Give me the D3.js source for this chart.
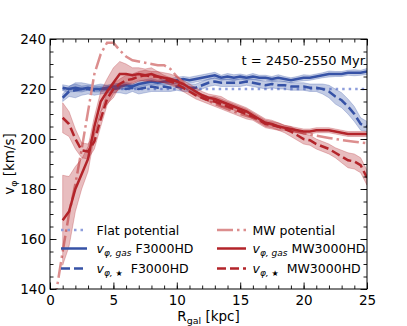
<!DOCTYPE html>
<html>
<head>
<meta charset="utf-8">
<script src="https://cdn.jsdelivr.net/npm/d3@7"></script>
<style>
body { margin: 0; background: #fff; }
text { font-family: "DejaVu Sans", sans-serif; fill: #000; }
</style>
</head>
<body>
<div id="chart"></div>
<script>
// rotation curves (step 0.5 kpc)
var R = [1,1.5,2,2.5,3,3.5,4,4.5,5,5.5,6,6.5,7,7.5,8,8.5,9,9.5,10,10.5,11,11.5,12,12.5,13,13.5,14,14.5,15,15.5,16,16.5,17,17.5,18,18.5,19,19.5,20,20.5,21,21.5,22,22.5,23,23.5,24,24.5,25];

var gasF = [220.5,220,220.5,220,220.5,220,220,220.5,221,221,221.5,221,222,222.5,223,222.5,223,223,223.5,224,223.5,224,224.5,225,225.5,224.5,225,224.5,225,224.5,225,224.5,224.5,224,224.5,224,223.5,224,224.5,224.5,225,225.5,226,226,226,226.5,226.5,226.5,227];
var gasFerr = [1.2,1.2,1.5,1.2,1,1.2,1.2,1,1.2,1.2,1.2,1,1.2,1.2,1.2,1,1.2,1.2,1.2,1,1.2,1.2,1.2,1.2,1.2,1,1.2,1.2,1,1,1.2,1,1,1,1.2,1,1,1,1.2,1,1,1,1.2,1,1,1,1.2,1,1.2];

var starF = [216.5,219,219.5,220,220,219.5,220,220,220,220.5,220,220.5,220,220.5,221,220.5,221,220.5,221,220.5,220.5,220.5,221.5,222.5,223,222.5,222.5,222.5,222.5,223,222.5,222,221.5,222,221.5,221.5,221,221,221,220.5,220.5,220,219,217,215.5,213,210,206,205];
var starFerr = [1.5,2,3,2.5,2,2,2,1.5,1.5,2,2,1.5,2,2,2,1.5,2,1.5,1.5,1.5,1.5,1.5,1.5,1.5,1.5,1.5,1.5,1.5,1.5,1.5,1.5,1.5,1.5,1.5,1.5,1.5,1.5,1.5,1.5,1.5,1.5,2,2.5,3,3,3,3,2.5,2];

var gasMW = [167.5,171,180,186,192,205,215,219,222.5,226,226,225.5,226,225.5,226,225,224.5,224,223,222,220.5,219,217.5,216.5,216,215,214,213,212,211,209.5,208,206.5,206,205,204.5,204,203.5,203,203,203.5,203.5,203.5,203,202.5,202,202,202,202];
var gasMWerr = [18,14,9,6,5,4,4,5,6,5,4,3,2.5,2.5,2.5,2,2,2,2,1.5,1.5,1.5,1.5,1.5,1.5,2,1.5,1.5,1.5,1.5,1.5,1.5,1.5,1.5,1.5,1,1,1,1,1,1,1,1,1,1,1,1,1,1];

var starMW = [208.5,206,200,195.5,195,199,208,216,220,222,223.5,224,225,225.5,225,225,224,223,222,220.5,219,217.5,216.5,215.5,215,214,213,212,211,210,209,207.5,206,205.5,205,204,203,201.5,200,199.5,198,197,196,194.5,193,191.5,191,189.5,184.5];
var starMWerr = [6,5,4,3,3,3,3,2.5,2,2,2,2,2,2,2,2,1.5,1.5,1.5,1.5,1.5,1.5,1.5,1.5,2,2,2,2,2,2,1.5,1.5,1.5,1.5,1.5,1.5,2,2,2,2,2,2,2,2,2.5,3,3,3,3];

// potentials
var flatR = [1, 25];
var flatV = [220, 220];
var mwR = [0.4,0.5,1,1.5,2,2.5,3,3.5,4,4.5,5,5.5,6,6.5,7,7.5,8,8.5,9,9.5,10,11,12,13,14,15,16,17,18,19,20,21,22,23,24,25];
var mwV = [134,139,155,170,182,196,211,226,234,238.5,238.5,235.5,233,231.5,231,230.5,230,229.5,229.5,228,225,220,216.5,214,212,210,208.5,206.5,205,203.5,202.3,201.3,200.4,199.6,198.9,198.3];

var xTicks = [0,5,10,15,20,25];
var yTicks = [140,160,180,200,220,240];

var blue = "#3652a6", red = "#b3242a", lightBlue = "#8e9edc", lightRed = "#dc8e8e";

var W = 407, H = 326;
var plot = {left: 50, right: 367, top: 39, bottom: 289};

var svg = d3.select("#chart").append("svg")
    .attr("width", W)
    .attr("height", H);

var x = d3.scaleLinear().domain([0, 25]).range([plot.left, plot.right]);
var y = d3.scaleLinear().domain([140, 240]).range([plot.bottom, plot.top]);

svg.append("clipPath").attr("id", "clip")
    .append("rect")
    .attr("x", plot.left).attr("y", plot.top)
    .attr("width", plot.right - plot.left).attr("height", plot.bottom - plot.top);

var g = svg.append("g").attr("clip-path", "url(#clip)");

function rows(rs, vs, es) {
    return rs.map(function (r, i) { return {r: r, v: vs[i], e: es ? es[i] : 0}; });
}

var line = d3.line().x(function (d) { return x(d.r); }).y(function (d) { return y(d.v); });
var area = d3.area()
    .x(function (d) { return x(d.r); })
    .y0(function (d) { return y(d.v - d.e); })
    .y1(function (d) { return y(d.v + d.e); });

function band(data, col) {
    g.append("path").datum(data)
        .attr("d", area)
        .attr("fill", col).attr("fill-opacity", 0.3)
        .attr("stroke", col).attr("stroke-opacity", 0.35).attr("stroke-width", 0.8);
}
function curve(data, col, dash) {
    g.append("path").datum(data)
        .attr("d", line)
        .attr("fill", "none")
        .attr("stroke", col)
        .attr("stroke-width", 2.5)
        .attr("stroke-dasharray", dash);
}

var dGasF = rows(R, gasF, gasFerr), dStarF = rows(R, starF, starFerr);
var dGasMW = rows(R, gasMW, gasMWerr), dStarMW = rows(R, starMW, starMWerr);

curve(rows(flatR, flatV), lightBlue, "2.5,4");
band(dGasF, blue);
curve(dGasF, blue, null);
band(dStarF, blue);
curve(dStarF, blue, "9,4");
curve(rows(mwR, mwV), lightRed, "16,4,2.5,4");
band(dGasMW, red);
curve(dGasMW, red, null);
band(dStarMW, red);
curve(dStarMW, red, "9,4");

// axes with inward ticks on all sides
function styleAxis(sel) {
    sel.select(".domain").remove();
    sel.selectAll("line").attr("stroke", "#000").attr("stroke-width", 0.9);
    sel.selectAll("text").style("font-size", "13.5px").attr("fill", "#000");
}
var xMinor = d3.range(0, 26, 1), yMinor = d3.range(140, 241, 5);

svg.append("g").attr("transform", "translate(0," + plot.bottom + ")")
    .call(d3.axisBottom(x).tickValues(xMinor).tickSize(-3.5).tickFormat(""))
    .call(styleAxis);
svg.append("g").attr("transform", "translate(0," + plot.bottom + ")")
    .call(d3.axisBottom(x).tickValues(xTicks).tickSize(-6.5).tickPadding(6))
    .call(styleAxis);
svg.append("g").attr("transform", "translate(0," + plot.top + ")")
    .call(d3.axisTop(x).tickValues(xMinor).tickSize(-3.5).tickFormat(""))
    .call(styleAxis);
svg.append("g").attr("transform", "translate(0," + plot.top + ")")
    .call(d3.axisTop(x).tickValues(xTicks).tickSize(-6.5).tickFormat(""))
    .call(styleAxis);
svg.append("g").attr("transform", "translate(" + plot.left + ",0)")
    .call(d3.axisLeft(y).tickValues(yMinor).tickSize(-3.5).tickFormat(""))
    .call(styleAxis);
svg.append("g").attr("transform", "translate(" + plot.left + ",0)")
    .call(d3.axisLeft(y).tickValues(yTicks).tickSize(-6.5).tickPadding(4))
    .call(styleAxis);
svg.append("g").attr("transform", "translate(" + plot.right + ",0)")
    .call(d3.axisRight(y).tickValues(yMinor).tickSize(-3.5).tickFormat(""))
    .call(styleAxis);
svg.append("g").attr("transform", "translate(" + plot.right + ",0)")
    .call(d3.axisRight(y).tickValues(yTicks).tickSize(-6.5).tickFormat(""))
    .call(styleAxis);

svg.append("rect")
    .attr("x", plot.left).attr("y", plot.top)
    .attr("width", plot.right - plot.left).attr("height", plot.bottom - plot.top)
    .attr("fill", "none").attr("stroke", "#000").attr("stroke-width", 1);

// axis labels
var xl = svg.append("text")
    .attr("x", (plot.left + plot.right) / 2).attr("y", 321)
    .attr("text-anchor", "middle").style("font-size", "13.5px");
xl.append("tspan").text("R");
xl.append("tspan").attr("dy", 3).style("font-size", "9.5px").text("gal");
xl.append("tspan").attr("dy", -3).text(" [kpc]");

var yl = svg.append("text")
    .attr("transform", "translate(14," + ((plot.top + plot.bottom) / 2) + ") rotate(-90)")
    .attr("text-anchor", "middle").style("font-size", "13.5px");
yl.append("tspan").text("v");
yl.append("tspan").attr("dy", 3).style("font-size", "9.5px").text("φ");
yl.append("tspan").attr("dy", -3).text(" [km/s]");

svg.append("text")
    .attr("x", 365).attr("y", 65)
    .attr("text-anchor", "end").style("font-size", "13px")
    .text("t = 2450-2550 Myr");

// legend
var legRows = [230, 248.5, 268.5];
var legend = [
    {col: 0, row: 0, color: lightBlue, dash: "2.5,4", label: "Flat potential"},
    {col: 0, row: 1, color: blue, dash: null, sub: "φ, gas", name: " F3000HD"},
    {col: 0, row: 2, color: blue, dash: "9,4", sub: "φ, ", star: true, name: "  F3000HD"},
    {col: 1, row: 0, color: lightRed, dash: "16,4,2.5,4", label: "MW potential"},
    {col: 1, row: 1, color: red, dash: null, sub: "φ, gas", name: " MW3000HD"},
    {col: 1, row: 2, color: red, dash: "9,4", sub: "φ, ", star: true, name: "  MW3000HD"}
];
var colX = [{l0: 61, l1: 87, t: 96.5}, {l0: 217, l1: 246, t: 252.5}];

legend.forEach(function (d) {
    var cx = colX[d.col], ry = legRows[d.row];
    svg.append("line")
        .attr("x1", cx.l0).attr("x2", cx.l1).attr("y1", ry).attr("y2", ry)
        .attr("stroke", d.color).attr("stroke-width", 2.5)
        .attr("stroke-dasharray", d.dash);
    var t = svg.append("text")
        .attr("x", cx.t).attr("y", ry + 4.5)
        .style("font-size", "12.5px")
        .attr("xml:space", "preserve")
        .style("white-space", "pre");
    if (d.label) {
        t.text(d.label);
    } else {
        t.append("tspan").style("font-style", "italic").text("v");
        t.append("tspan").attr("dy", 2.5).style("font-size", "9px").style("font-style", "italic").text(d.sub);
        if (d.star) t.append("tspan").style("font-size", "8px").text("★");
        t.append("tspan").attr("dy", -2.5).text(d.name);
    }
});
</script>
</body>
</html>
